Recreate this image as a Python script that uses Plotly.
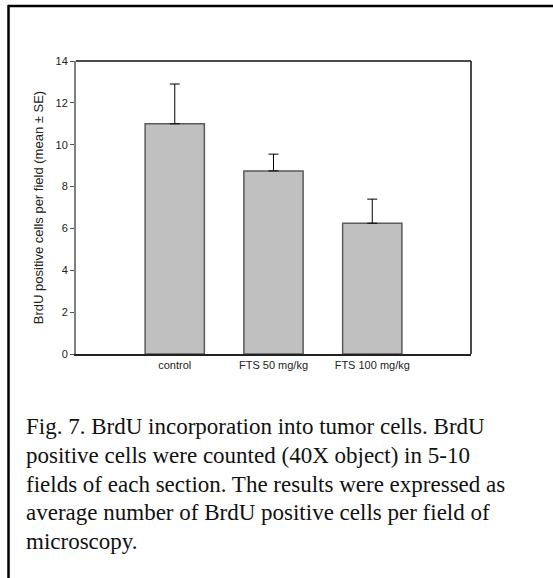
import plotly.graph_objects as go

categories = ["control", "FTS 50 mg/kg", "FTS 100 mg/kg"]
positions = [1, 2, 3]
means = [11.0, 8.75, 6.25]
se = [1.9, 0.8, 1.15]

caption_lines = [
    "Fig. 7. BrdU incorporation into tumor cells. BrdU",
    "positive cells were counted (40X object) in 5-10",
    "fields of each section. The results were expressed as",
    "average number of BrdU positive cells per field of",
    "microscopy.",
]

W, H = 553, 578
L, R, T, B = 76, 471, 61, 354

def px(x):
    return (x - L) / (R - L)

def py(y):
    return (B - y) / (B - T)

fig = go.Figure()
fig.add_trace(go.Bar(
    x=positions, y=means, width=0.6,
    marker=dict(color="#c0c0c0", line=dict(color="#5a5a5a", width=1.5)),
    error_y=dict(type="data", array=se, arrayminus=[0, 0, 0], symmetric=False,
                 color="#000000", thickness=1, width=5),
    showlegend=False,
))

fig.update_layout(
    width=W, height=H,
    margin=dict(l=L, r=W - R, t=T, b=H - B),
    paper_bgcolor="white", plot_bgcolor="white",
    font=dict(family="Liberation Sans, Arial", size=11, color="#222"),
    xaxis=dict(range=[0, 4], tickvals=positions, ticktext=categories,
               showgrid=False, zeroline=False, showline=True,
               linecolor="#222", linewidth=2, ticks="",
               tickfont=dict(size=11)),
    yaxis=dict(range=[0, 14], tickvals=[0, 2, 4, 6, 8, 10, 12, 14],
               showgrid=False, zeroline=False, showline=True,
               linecolor="#808080", linewidth=2, ticks="outside",
               ticklen=4, tickcolor="#555", tickwidth=1,
               title=dict(text="BrdU positive cells per field (mean ± SE)",
                          font=dict(size=13), standoff=9),
               tickfont=dict(size=11)),
)

shapes = [
    dict(type="line", xref="paper", yref="paper", x0=0, x1=1, y0=1, y1=1,
         line=dict(color="#111", width=1.5)),
    dict(type="line", xref="paper", yref="paper", x0=1, x1=1, y0=0, y1=1,
         line=dict(color="#111", width=1.5)),
    dict(type="line", xref="paper", yref="paper", x0=px(8), x1=px(560),
         y0=py(6), y1=py(6), line=dict(color="#000", width=2.5)),
    dict(type="line", xref="paper", yref="paper", x0=px(8.5), x1=px(8.5),
         y0=py(5), y1=py(590), line=dict(color="#000", width=2.5)),
]
fig.update_layout(shapes=shapes)

line_y = [426.5, 455.5, 484, 512.5, 541]
for txt, yy in zip(caption_lines, line_y):
    fig.add_annotation(text=txt, xref="paper", yref="paper",
                       x=px(24), y=py(yy), xanchor="left", yanchor="middle",
                       showarrow=False,
                       font=dict(family="Liberation Serif, Times New Roman",
                                 size=23, color="#111"))

fig.write_html("out.html")
